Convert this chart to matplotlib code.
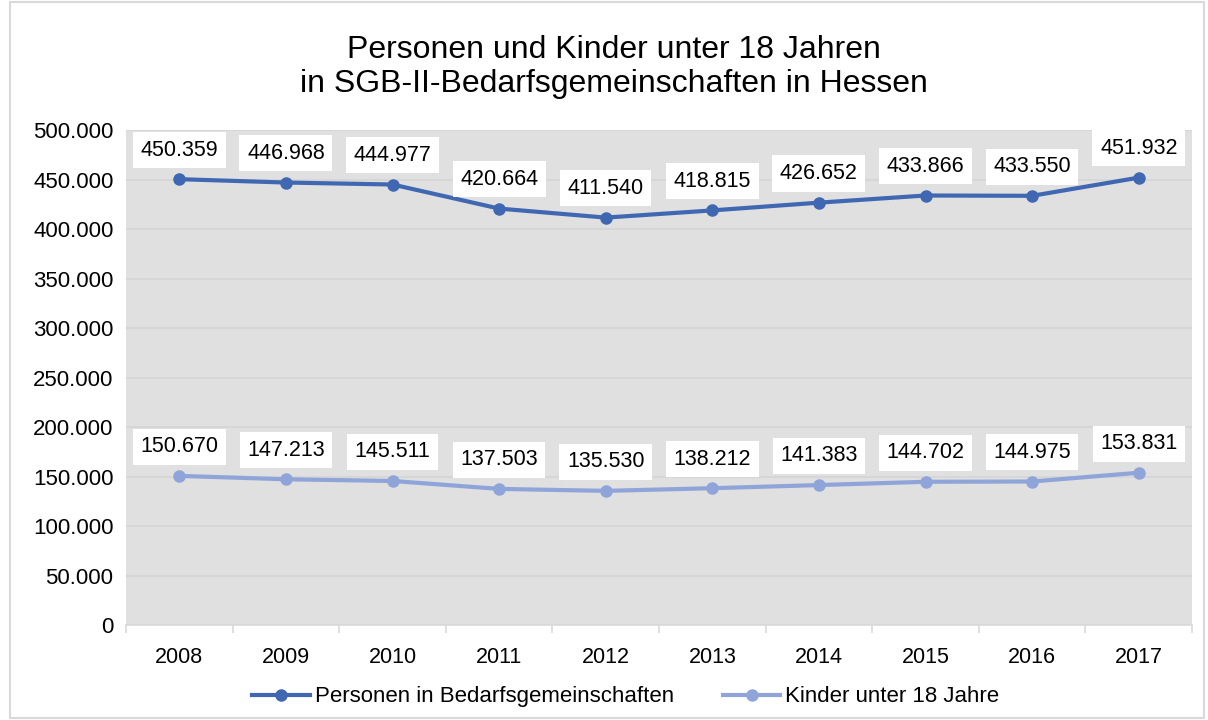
import numpy as np
import matplotlib.pyplot as plt
from matplotlib.patches import Rectangle

plt.rcParams['font.family'] = ['Liberation Sans', 'DejaVu Sans']

years = ['2008', '2009', '2010', '2011', '2012', '2013', '2014', '2015', '2016', '2017']
personen = [450359, 446968, 444977, 420664, 411540, 418815, 426652, 433866, 433550, 451932]
kinder = [150670, 147213, 145511, 137503, 135530, 138212, 141383, 144702, 144975, 153831]
yticks = [0, 50000, 100000, 150000, 200000, 250000, 300000, 350000, 400000, 450000, 500000]

c_pers = '#4068B2'
c_kind = '#8FA5D9'


def fmt(v):
    return f'{v:,}'.replace(',', '.')


fig = plt.figure(figsize=(12.08, 7.2), dpi=100)
fig.patches.append(Rectangle((0.008, 0.003), 0.989, 0.994, transform=fig.transFigure,
                             fill=False, edgecolor='#D9D9D9', lw=1.5))
ax = fig.add_axes([0.1043, 0.1319, 0.8825, 0.6875])
ax.set_facecolor('#E0E0E0')

x = np.arange(len(years))
ax.plot(x, personen, color=c_pers, lw=3, marker='o', ms=8, label='Personen in Bedarfsgemeinschaften', zorder=3)
ax.plot(x, kinder, color=c_kind, lw=3, marker='o', ms=8, label='Kinder unter 18 Jahre', zorder=3)

for series in (personen, kinder):
    for xi, v in zip(x, series):
        ax.annotate(fmt(v), (xi, v), xytext=(0, 21), textcoords='offset points',
                    ha='center', va='center', fontsize=15.5,
                    bbox=dict(boxstyle='square,pad=0.35', fc='white', ec='none'), zorder=4)

ax.set_xlim(-0.5, len(years) - 0.5)
ax.set_ylim(0, 500000)
ax.set_yticks(yticks)
ax.set_yticklabels([fmt(v) for v in yticks])
ax.set_xticks(x)
ax.set_xticklabels(years)
ax.set_xticks(np.arange(-0.5, len(years), 1), minor=True)
ax.tick_params(axis='y', length=0, labelsize=16, pad=9)
ax.tick_params(axis='x', which='major', length=0, labelsize=15.5, pad=16)
ax.tick_params(axis='x', which='minor', length=6, color='#D9D9D9', width=1.2)
ax.grid(axis='y', color='#D4D4D4', lw=1.2)
ax.set_axisbelow(True)
for s in ['top', 'right', 'left']:
    ax.spines[s].set_visible(False)
ax.spines['bottom'].set_color('#D9D9D9')
ax.spines['bottom'].set_linewidth(1.2)

fig.suptitle('Personen und Kinder unter 18 Jahren\nin SGB-II-Bedarfsgemeinschaften in Hessen',
             x=0.508, y=0.952, fontsize=23, linespacing=1.2)
fig.legend(loc='center', bbox_to_anchor=(0.518, 0.032), ncol=2, frameon=False,
           fontsize=16, handlelength=2.6, columnspacing=2.2, handletextpad=0.2)

fig.savefig('out.png', dpi=100)
